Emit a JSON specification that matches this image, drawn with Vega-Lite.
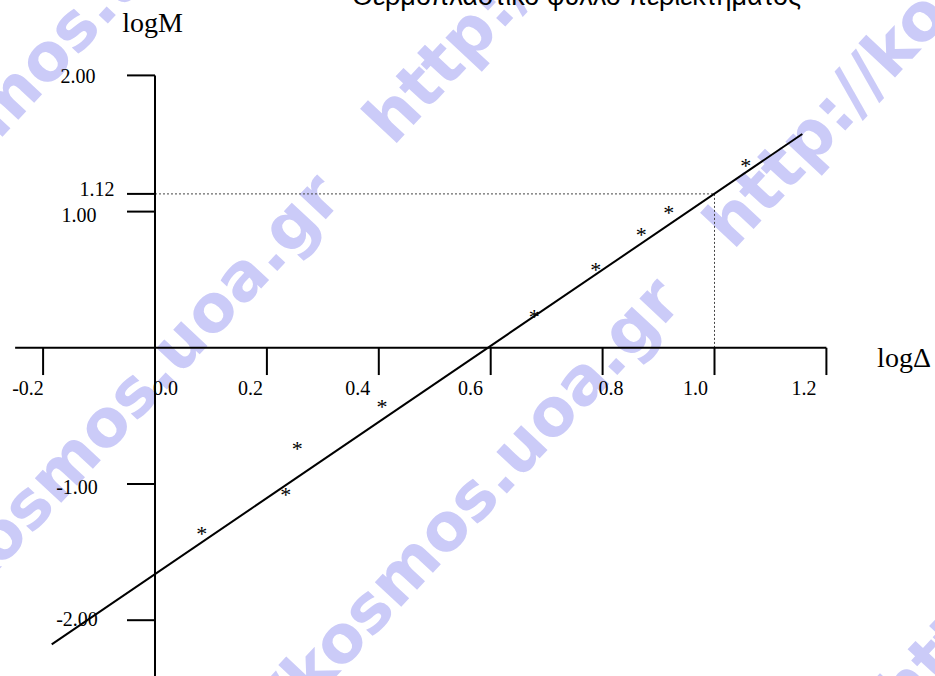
{
  "$schema": "https://vega.github.io/schema/vega-lite/v6.json",
  "width": 935,
  "height": 676,
  "padding": 0,
  "autosize": {"type": "none"},
  "background": "white",
  "config": {"view": {"stroke": null}},
  "datasets": {
    "watermark": [
      {"x": -0.7165, "y": -0.4053, "t": "http://kosmos.uoa.gr"},
      {"x": -0.6113, "y": -3.0925, "t": "http://kosmos.uoa.gr"},
      {"x": 0.4254, "y": 1.4743, "t": "http://kosmos.uoa.gr"},
      {"x": -0.0036, "y": -3.8561, "t": "http://kosmos.uoa.gr"},
      {"x": 1.0331, "y": 0.7107, "t": "http://kosmos.uoa.gr"},
      {"x": 1.3405, "y": -2.7327, "t": "http://kosmos.uoa.gr"}
    ],
    "segments": [
      {"x": -0.25, "y": 0, "x2": 1.2, "y2": 0},
      {"x": 0, "y": 2.0, "x2": 0, "y2": -2.5},
      {"x": -0.2, "y": 0, "x2": -0.2, "y2": -0.2},
      {"x": 0.2, "y": 0, "x2": 0.2, "y2": -0.2},
      {"x": 0.4, "y": 0, "x2": 0.4, "y2": -0.2},
      {"x": 0.6, "y": 0, "x2": 0.6, "y2": -0.2},
      {"x": 0.8, "y": 0, "x2": 0.8, "y2": -0.2},
      {"x": 1.0, "y": 0, "x2": 1.0, "y2": -0.2},
      {"x": 1.2, "y": 0, "x2": 1.2, "y2": -0.2},
      {"x": -0.05, "y": 2.0, "x2": 0, "y2": 2.0},
      {"x": -0.05, "y": 1.13, "x2": 0, "y2": 1.13},
      {"x": -0.05, "y": 1.0, "x2": 0, "y2": 1.0},
      {"x": -0.05, "y": -1.0, "x2": 0, "y2": -1.0},
      {"x": -0.05, "y": -2.0, "x2": 0, "y2": -2.0},
      {"x": -0.1846, "y": -2.177, "x2": 1.1569, "y2": 1.5698}
    ],
    "guides": [
      {"x": 0, "y": 1.13, "x2": 1.0, "y2": 1.13},
      {"x": 1.0, "y": 1.13, "x2": 1.0, "y2": 0}
    ],
    "points": [
      {"x": 0.0835, "y": -1.338},
      {"x": 0.2336, "y": -1.052},
      {"x": 0.2543, "y": -0.714},
      {"x": 0.4057, "y": -0.403},
      {"x": 0.678, "y": 0.258},
      {"x": 0.7876, "y": 0.603},
      {"x": 0.8691, "y": 0.858},
      {"x": 0.9181, "y": 1.017},
      {"x": 1.0558, "y": 1.366}
    ],
    "xlabels": [
      {"x": -0.227, "y": -0.3466, "t": "-0.2"},
      {"x": 0.0188, "y": -0.3466, "t": "0.0"},
      {"x": 0.1707, "y": -0.3466, "t": "0.2"},
      {"x": 0.3625, "y": -0.3466, "t": "0.4"},
      {"x": 0.5639, "y": -0.3466, "t": "0.6"},
      {"x": 0.815, "y": -0.3466, "t": "0.8"},
      {"x": 0.966, "y": -0.3466, "t": "1.0"},
      {"x": 1.16, "y": -0.3466, "t": "1.2"}
    ],
    "ylabels": [
      {"x": -0.1376, "y": 1.942, "t": "2.00"},
      {"x": -0.1037, "y": 1.1145, "t": "1.12"},
      {"x": -0.1358, "y": 0.9214, "t": "1.00"},
      {"x": -0.1394, "y": -1.0756, "t": "-1.00"},
      {"x": -0.1394, "y": -2.0404, "t": "-2.00"}
    ],
    "titles": [
      {"x": -0.0045, "y": 2.3208, "t": "logM"},
      {"x": 1.3387, "y": -0.1388, "t": "logΔ"}
    ],
    "heading": [
      {"x": 0.7533, "y": 2.5169, "t": "Θερμοπλαστικό φύλλο περιεκτήματος"}
    ]
  },
  "encoding": {
    "x": {"field": "x", "type": "quantitative", "axis": null, "scale": {"domain": [-0.27703, 1.3941], "nice": false, "zero": false}},
    "y": {"field": "y", "type": "quantitative", "axis": null, "scale": {"domain": [-2.40969, 2.5536], "nice": false, "zero": false}}
  },
  "layer": [
    {
      "data": {"name": "watermark"},
      "mark": {"type": "text", "angle": -47, "align": "left", "baseline": "alphabetic", "font": "DejaVu Sans", "fontWeight": "bold", "fontSize": 66, "color": "#cbcbf8"},
      "encoding": {"text": {"field": "t"}}
    },
    {
      "data": {"name": "guides"},
      "mark": {"type": "rule", "color": "#444444", "strokeWidth": 1, "strokeDash": [2, 2]},
      "encoding": {"x2": {"field": "x2"}, "y2": {"field": "y2"}}
    },
    {
      "data": {"name": "segments"},
      "mark": {"type": "rule", "color": "black", "strokeWidth": 2},
      "encoding": {"x2": {"field": "x2"}, "y2": {"field": "y2"}}
    },
    {
      "data": {"name": "points"},
      "mark": {"type": "text", "text": "*", "align": "center", "baseline": "alphabetic", "dy": 11, "font": "Liberation Serif", "fontSize": 22, "color": "black"}
    },
    {
      "data": {"name": "xlabels"},
      "mark": {"type": "text", "align": "center", "baseline": "alphabetic", "font": "Liberation Serif", "fontSize": 20, "color": "black"},
      "encoding": {"text": {"field": "t"}}
    },
    {
      "data": {"name": "ylabels"},
      "mark": {"type": "text", "align": "center", "baseline": "alphabetic", "font": "Liberation Serif", "fontSize": 20, "color": "black"},
      "encoding": {"text": {"field": "t"}}
    },
    {
      "data": {"name": "titles"},
      "mark": {"type": "text", "align": "center", "baseline": "alphabetic", "font": "Liberation Serif", "fontSize": 28, "color": "black"},
      "encoding": {"text": {"field": "t"}}
    },
    {
      "data": {"name": "heading"},
      "mark": {"type": "text", "align": "center", "baseline": "alphabetic", "font": "Liberation Sans", "fontSize": 27, "color": "black"},
      "encoding": {"text": {"field": "t"}}
    }
  ]
}
